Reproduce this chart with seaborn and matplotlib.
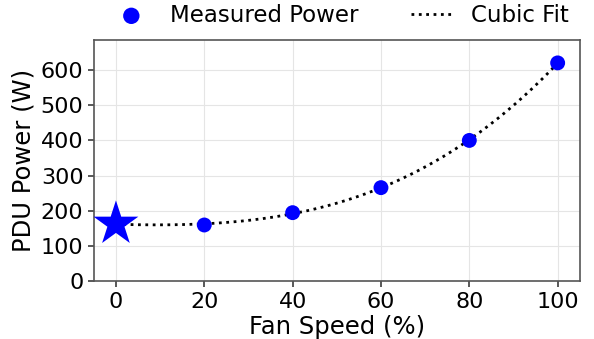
import numpy as np
import pandas as pd
import seaborn as sns
import matplotlib
matplotlib.use("Agg")
import matplotlib.pyplot as plt

fan_speed = [20, 40, 60, 80, 100]
power = [160, 195, 266, 400, 620]
idle_speed = [0]
idle_power = [163]

sns.set_theme(style="whitegrid")
plt.rcParams['font.family'] = ['DejaVu Sans']
plt.rcParams['text.color'] = 'black'
plt.rcParams['axes.labelcolor'] = 'black'
plt.rcParams['xtick.color'] = 'black'
plt.rcParams['ytick.color'] = 'black'

fig, ax = plt.subplots(figsize=(5.94, 3.39), dpi=100)

all_x = np.array(idle_speed + fan_speed, dtype=float)
all_y = np.array(idle_power + power, dtype=float)
coef = np.polyfit(all_x, all_y, 3)
xs = np.linspace(0, 100, 200)
fit_df = pd.DataFrame({"x": xs, "y": np.polyval(coef, xs)})

sns.lineplot(data=fit_df, x="x", y="y", ax=ax, color="black", linestyle=":", linewidth=2, label="Cubic Fit", zorder=2)
meas = pd.DataFrame({"x": fan_speed, "y": power})
sns.scatterplot(data=meas, x="x", y="y", ax=ax, color="blue", s=115, edgecolor="none", label="Measured Power", zorder=3)
idle = pd.DataFrame({"x": idle_speed, "y": idle_power})
sns.scatterplot(data=idle, x="x", y="y", ax=ax, color="blue", marker="*", s=1150, edgecolor="none", zorder=4, legend=False)

ax.set_xlim(-5, 105)
ax.set_ylim(0, 685)
ax.set_xticks([0, 20, 40, 60, 80, 100])
ax.set_yticks([0, 100, 200, 300, 400, 500, 600])
ax.tick_params(axis="both", labelsize=16, length=4, color="#444444", labelcolor="black", left=True, bottom=True)
ax.set_xlabel("Fan Speed (%)", fontsize=17.5, labelpad=2, color="black")
ax.set_ylabel("PDU Power (W)", fontsize=17.5, color="black")
for sp in ax.spines.values():
    sp.set_color("#555555")
    sp.set_linewidth(1.2)
ax.grid(True, color="#e5e5e5", linewidth=0.8)
ax.set_facecolor("white")

handles, labels = ax.get_legend_handles_labels()
order = [labels.index("Measured Power"), labels.index("Cubic Fit")]
ax.get_legend().remove()
fig.legend([handles[i] for i in order], [labels[i] for i in order], loc="lower center",
           bbox_to_anchor=(0.572, 0.86), ncol=2, frameon=False, fontsize=16.5, columnspacing=2.3,
           markerscale=1.1, handlelength=1.8)

fig.subplots_adjust(left=0.158, right=0.976, top=0.882, bottom=0.17)
fig.savefig("out.png", dpi=100)
